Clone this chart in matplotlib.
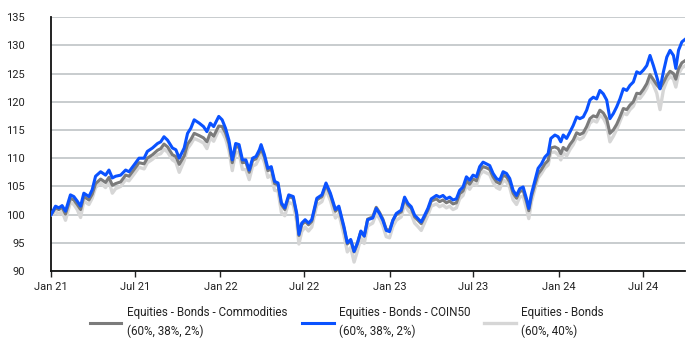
#!/usr/bin/env python3

import matplotlib
matplotlib.use("Agg")
import matplotlib.pyplot as plt
import matplotlib.dates as dates
import numpy as np
import pandas as pd

# months elapsed since Jan 1 2021
months = [
    0, 0.31, 0.55, 0.78, 1.02, 1.37, 1.61, 1.85, 2.09, 2.32, 2.68, 2.91,
    3.15, 3.51, 3.86, 4.1, 4.34, 4.57, 4.93, 5.28, 5.52, 5.88, 6.23, 6.59,
    6.82, 7.18, 7.54, 7.77, 8.0, 8.25, 8.6, 8.84, 9.08, 9.43, 9.67, 9.9,
    10.14, 10.5, 10.8, 11.04, 11.28, 11.52, 11.88, 12.12, 12.36, 12.6, 12.84, 13.08,
    13.32, 13.56, 13.8, 14.04, 14.28, 14.52, 14.76, 14.88, 15.12, 15.36, 15.6, 15.84,
    16.08, 16.32, 16.56, 16.84, 17.16, 17.4, 17.56, 17.76, 18.0, 18.24, 18.47, 18.83,
    19.19, 19.48, 19.79, 20.15, 20.39, 20.75, 20.99, 21.23, 21.47, 21.71, 21.95, 22.19,
    22.43, 22.79, 23.04, 23.27, 23.51, 23.75, 23.98, 24.22, 24.46, 24.81, 25.05, 25.28,
    25.52, 25.76, 25.99, 26.23, 26.47, 26.7, 26.94, 27.3, 27.53, 27.77, 28.01, 28.24,
    28.48, 28.72, 28.95, 29.19, 29.43, 29.66, 29.9, 30.14, 30.37, 30.61, 30.85, 31.08,
    31.32, 31.56, 31.79, 32.03, 32.27, 32.5, 32.74, 32.98, 33.21, 33.45, 33.69, 33.85,
    34.04, 34.28, 34.51, 34.75, 34.99, 35.22, 35.41, 35.7, 35.93, 36.12, 36.29, 36.53,
    36.76, 37.0, 37.24, 37.47, 37.71, 37.95, 38.18, 38.42, 38.66, 38.89, 39.13, 39.37,
    39.6, 39.84, 40.08, 40.31, 40.55, 40.79, 41.02, 41.26, 41.5, 41.73, 41.97, 42.21,
    42.44, 42.68, 42.92, 43.15, 43.39, 43.63, 43.86, 44.1, 44.27, 44.46, 44.7, 45.0,
]

coin50 = [
    100.0, 101.5, 101.2, 101.6, 100.6, 103.5, 103.2, 102.4, 101.5, 103.8, 103.2, 104.4,
    106.8, 107.6, 107.0, 107.9, 106.5, 106.8, 107.0, 107.9, 107.6, 108.8, 110.0, 110.0,
    111.2, 111.8, 112.6, 112.9, 113.8, 113.2, 111.8, 111.5, 110.0, 111.8, 114.4, 115.3,
    116.8, 116.2, 115.6, 114.7, 116.2, 115.6, 117.4, 116.8, 115.3, 113.2, 109.7, 112.6,
    112.4, 109.7, 109.7, 107.9, 110.0, 110.3, 111.5, 112.4, 110.6, 108.2, 108.5, 105.9,
    105.6, 102.1, 101.2, 103.5, 103.2, 100.3, 96.5, 98.5, 99.1, 98.5, 99.1, 102.9,
    103.5, 105.6, 103.8, 100.9, 101.5, 97.9, 95.0, 95.6, 93.5, 95.0, 97.1, 96.2,
    99.1, 99.4, 101.1, 100.2, 99.0, 97.2, 97.0, 99.0, 100.2, 100.8, 103.1, 102.0,
    101.4, 99.9, 99.3, 98.7, 99.9, 101.1, 102.8, 103.4, 103.1, 103.4, 102.8, 103.1,
    102.6, 102.8, 104.3, 104.9, 106.7, 106.1, 107.0, 106.7, 108.5, 109.3, 109.0, 108.7,
    107.3, 106.4, 106.1, 107.6, 107.3, 106.4, 104.3, 103.4, 104.6, 104.9, 102.8, 101.1,
    103.7, 106.0, 108.2, 109.0, 110.2, 110.8, 113.5, 114.1, 113.8, 112.9, 114.1, 113.5,
    114.6, 115.8, 117.3, 117.0, 117.3, 118.5, 120.3, 120.8, 120.5, 122.0, 121.4, 120.3,
    117.0, 117.9, 119.1, 120.5, 122.3, 122.0, 122.9, 123.5, 125.3, 125.0, 125.6, 126.4,
    128.2, 126.4, 124.4, 122.3, 125.3, 127.9, 129.1, 128.2, 125.9, 129.1, 130.6, 131.2,
]

commodities = [
    100.0, 101.2, 100.9, 101.3, 100.1, 102.9, 102.6, 101.8, 100.9, 103.2, 102.6, 103.6,
    105.5, 106.3, 105.7, 106.6, 105.2, 105.5, 105.8, 107.0, 106.8, 108.0, 109.2, 109.0,
    110.0, 110.6, 111.4, 111.7, 112.5, 112.0, 110.6, 110.3, 108.9, 110.4, 112.5, 113.3,
    114.4, 114.0, 113.6, 112.9, 114.5, 113.9, 115.7, 115.6, 114.5, 112.6, 109.2, 112.1,
    111.9, 109.2, 109.3, 107.5, 109.6, 109.9, 111.0, 111.7, 110.2, 107.8, 108.1, 105.5,
    105.3, 101.8, 100.9, 103.2, 102.9, 100.0, 96.3, 98.2, 98.8, 98.2, 98.8, 102.6,
    103.2, 105.3, 103.5, 100.6, 101.2, 97.6, 94.8, 95.4, 93.4, 94.9, 97.0, 96.2,
    99.2, 99.6, 101.3, 100.4, 99.2, 97.4, 97.2, 99.0, 100.0, 100.5, 102.8, 101.7,
    101.1, 99.6, 99.0, 98.4, 99.6, 100.8, 102.4, 102.8, 102.3, 102.6, 102.1, 102.4,
    101.9, 102.1, 103.7, 104.2, 106.0, 105.4, 106.3, 106.0, 107.8, 108.5, 108.3, 108.0,
    106.7, 105.8, 105.5, 107.0, 106.7, 105.8, 103.8, 102.9, 104.1, 104.3, 102.3, 100.7,
    103.2, 105.3, 107.2, 108.0, 109.0, 109.6, 111.8, 112.0, 111.7, 110.8, 111.9, 111.4,
    112.4, 113.2, 114.5, 114.2, 114.5, 115.6, 117.0, 117.5, 117.3, 118.5, 118.0, 117.0,
    114.4, 115.0, 116.0, 117.3, 118.8, 118.6, 119.4, 120.0, 121.5, 121.4, 122.2, 123.2,
    124.8, 123.9, 123.0, 122.3, 123.4, 124.6, 125.4, 125.0, 124.0, 125.8, 126.9, 127.4,
]

bonds = [
    100.0, 100.6, 100.1, 100.6, 99.0, 102.2, 101.8, 100.9, 99.5, 102.4, 101.8, 102.9,
    104.8, 105.6, 104.8, 105.9, 103.8, 104.6, 105.0, 106.2, 106.0, 107.2, 108.4, 108.1,
    109.2, 109.8, 110.6, 110.8, 111.6, 111.1, 109.7, 109.3, 107.5, 109.6, 111.7, 112.5,
    113.5, 113.1, 112.7, 111.7, 113.6, 113.0, 115.0, 114.7, 113.5, 111.4, 107.8, 111.1,
    110.9, 108.0, 108.0, 106.2, 108.6, 108.9, 110.1, 110.8, 109.2, 106.6, 107.0, 104.3,
    104.2, 100.4, 99.8, 102.2, 101.8, 98.8, 94.8, 97.0, 97.8, 97.1, 97.8, 101.7,
    102.3, 104.4, 102.5, 99.4, 100.2, 96.4, 93.4, 94.2, 91.6, 93.6, 95.9, 94.9,
    98.0, 98.5, 100.2, 99.3, 98.0, 96.1, 95.9, 97.9, 99.0, 99.6, 101.9, 100.8,
    100.1, 98.5, 97.9, 97.2, 98.6, 99.9, 101.5, 101.9, 101.4, 101.7, 101.2, 101.5,
    100.9, 101.2, 102.8, 103.4, 105.2, 104.5, 105.5, 105.2, 107.0, 107.7, 107.4, 107.1,
    105.7, 104.8, 104.5, 106.1, 105.8, 104.8, 102.6, 101.8, 103.1, 103.3, 101.0, 99.3,
    102.3, 104.5, 106.5, 107.3, 108.3, 108.8, 111.0, 111.1, 110.6, 109.7, 111.0, 110.4,
    111.5, 112.4, 113.7, 113.3, 113.7, 114.8, 116.2, 116.7, 116.4, 117.6, 117.1, 115.9,
    112.9, 113.9, 115.1, 116.5, 118.0, 117.7, 118.6, 119.2, 120.7, 120.6, 121.4, 122.4,
    124.0, 123.0, 121.5, 118.6, 122.1, 123.7, 124.5, 124.0, 122.6, 124.9, 126.0, 126.5,
]

labels = [
    "Equities - Bonds - Commodities\n(60%, 38%, 2%)",
    "Equities - Bonds - COIN50\n(60%, 38%, 2%)",
    "Equities - Bonds\n(60%, 40%)",
]
colors = ["#7b7b7b", "#0a52ff", "#d6d6d6"]
yticks = [90, 95, 100, 105, 110, 115, 120, 125, 130, 135]

plt.rcParams["font.family"] = ["Roboto", "DejaVu Sans"]
plt.rcParams["font.size"] = 8

start = pd.Timestamp("2021-01-01")
time = start + pd.to_timedelta(np.array(months) * 30.44, unit="D")

fig = plt.figure(figsize=(7, 3.41), dpi=100)
ax = fig.add_axes([0.073, 0.205, 0.906, 0.745])

# draw back to front: light grey, grey, blue on top
l3, = ax.plot(time, bonds, color=colors[2], lw=2.4, zorder=3)
l1, = ax.plot(time, commodities, color=colors[0], lw=2.2, zorder=4)
l2, = ax.plot(time, coin50, color=colors[1], lw=2.2, zorder=5)

ax.set_ylim(90, 135)
ax.set_yticks(yticks)
ax.set_xlim(pd.Timestamp("2021-01-01"), pd.Timestamp("2024-09-30"))
ax.xaxis.set_major_locator(dates.MonthLocator(bymonth=[1, 7]))
ax.xaxis.set_major_formatter(dates.DateFormatter("%b %y"))

ax.grid(axis="y", color="#b9bec1", lw=1.1, zorder=1)
ax.set_axisbelow(True)
for s in ["top", "right"]:
    ax.spines[s].set_visible(False)
for s in ["left", "bottom"]:
    ax.spines[s].set_color("#111111")
    ax.spines[s].set_linewidth(1.3)
ax.tick_params(axis="y", length=0, pad=19, colors="#222222")
ax.tick_params(axis="x", length=4, width=1, pad=4, colors="#222222")

# one legend per entry so the handles sit where the original has them
leg_x = [90, 302, 484]
for h, lab, x in zip([l1, l2, l3], labels, leg_x):
    leg = fig.legend([h], [lab], loc="center left",
                     bbox_to_anchor=(x / 700, 1 - 322 / 341),
                     frameon=False, handlelength=2.7, handletextpad=0.45,
                     borderpad=0, borderaxespad=0, fontsize=8.4)
    for t in leg.get_texts():
        t.set_linespacing(1.5)
        t.set_color("#222222")

plt.savefig("out.png", dpi=100)
